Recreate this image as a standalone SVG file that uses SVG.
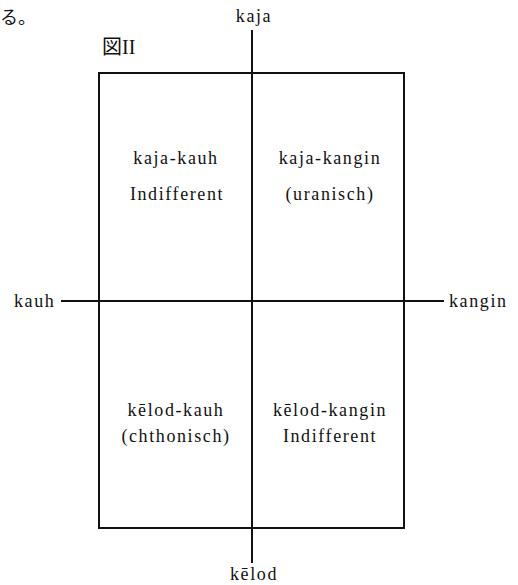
<svg xmlns="http://www.w3.org/2000/svg" width="518" height="585" viewBox="0 0 518 585">
<style>
text{font-family:"Liberation Serif","Noto Sans CJK JP",serif;font-size:18px;fill:#111;letter-spacing:1.6px}
.c{text-anchor:middle}
.ln{stroke:#111;stroke-width:2;fill:none}
</style>
<rect width="518" height="585" fill="#fff"/>
<text x="0" y="24" style="letter-spacing:0">る。</text>
<g id="frame"><rect class="ln" x="99" y="73" width="305" height="455"/></g>
<g id="connectors">
<line class="ln" x1="252" y1="30" x2="252" y2="563"/>
<line class="ln" x1="61" y1="301" x2="444" y2="301"/>
</g>
<g id="title"><text x="102" y="54" style="font-size:20px;letter-spacing:0">図II</text></g>
<g id="kaja"><text class="c" x="254" y="22">kaja</text></g>
<g id="kauh"><text x="14" y="307">kauh</text></g>
<g id="kangin"><text x="449" y="307">kangin</text></g>
<g id="kelod"><text class="c" x="254" y="580">kēlod</text></g>
<g id="q1"><text class="c" x="176" y="164">kaja-kauh</text><text class="c" x="177" y="200">Indifferent</text></g>
<g id="q2"><text class="c" x="330" y="164">kaja-kangin</text><text class="c" x="330" y="200">(uranisch)</text></g>
<g id="q3"><text class="c" x="176" y="416">kēlod-kauh</text><text class="c" x="176" y="442">(chthonisch)</text></g>
<g id="q4"><text class="c" x="330" y="416">kēlod-kangin</text><text class="c" x="330" y="442">Indifferent</text></g>
</svg>
